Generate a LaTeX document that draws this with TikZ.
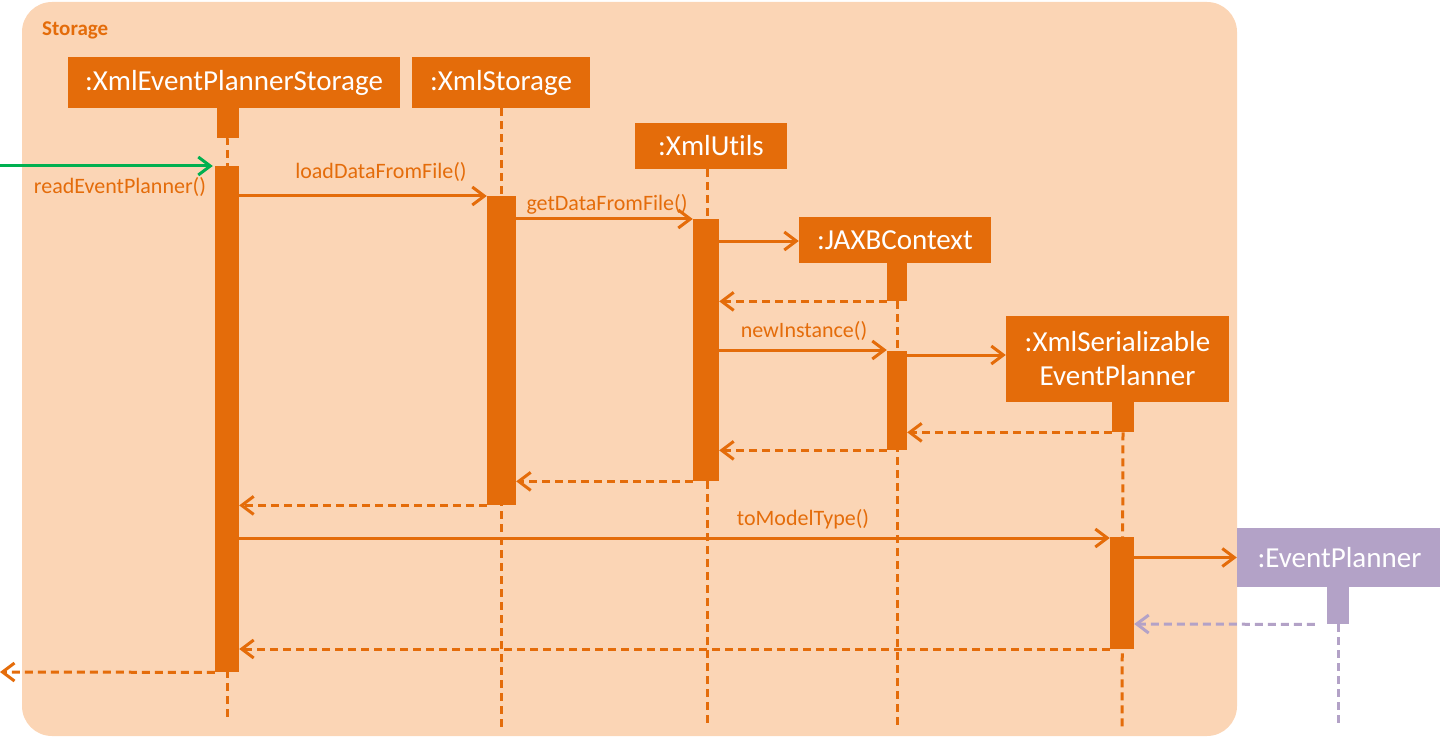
\documentclass[tikz,border=0pt]{standalone}
\usepackage{fontspec}
\setmainfont{Carlito}[Ligatures=NoCommon]
\usetikzlibrary{arrows.meta,calc}
\definecolor{orng}{HTML}{E46C0A}
\definecolor{peach}{HTML}{FBD5B5}
\definecolor{lilac}{HTML}{B3A2C7}
\definecolor{grn}{HTML}{00B050}

\begin{document}
\begin{tikzpicture}[x=1pt,y=-1pt,
  obj/.style={fill=orng, text=white, font=\fontsize{29}{34}\selectfont, inner sep=0pt, align=center},
  actbar/.style={fill=orng, inner sep=0pt, anchor=north},
  life/.style={draw=orng, line width=3pt, dash pattern=on 8pt off 5pt},
  call/.style={draw=orng, line width=3pt, -{Straight Barb[length=12pt,width=18pt,line width=3pt]}},
  ret/.style={call, dash pattern=on 8pt off 5pt},
  lbl/.style={text=orng, font=\fontsize{22}{26}\selectfont, inner sep=0pt}
]
\useasboundingbox (0,0) rectangle (1440,738);

% package frame
\fill[peach] (22,2) [rounded corners=30pt] rectangle (1237,736);
\node[anchor=west, text=orng, font=\fontsize{21}{25}\selectfont\bfseries, inner sep=0pt] (pkg) at (42,30) {Storage};

% participants
\node[obj, minimum width=332pt, minimum height=51pt] (o1) at (234,82.5) {:XmlEventPlannerStorage};
\node[obj, minimum width=178pt, minimum height=51pt] (o2) at (501,82.5) {:XmlStorage};
\node[obj, minimum width=152pt, minimum height=46pt] (o3) at (711,146) {:XmlUtils};
\node[obj, minimum width=192pt, minimum height=46pt] (o4) at (895,240) {:JAXBContext};
\node[obj, minimum width=223pt, minimum height=86pt] (o5) at (1117.5,359) {:XmlSerializable\\EventPlanner};
\node[obj, fill=lilac, minimum width=205pt, minimum height=59pt] (o6) at (1339.5,557.5) {:EventPlanner};

% stubs under the heads
\node[actbar, minimum width=22pt, minimum height=30pt] (s1) at (228,108) {};
\node[actbar, minimum width=20pt, minimum height=38pt] (s4) at (897,263) {};
\node[actbar, minimum width=22pt, minimum height=30pt] (s5) at (1123,402) {};
\node[actbar, fill=lilac, minimum width=22pt, minimum height=37pt] (s6) at (1338,587) {};

% lifeline ends
\coordinate (e1) at (227,717);
\coordinate (e2) at (501.5,727);
\coordinate (e3) at (707,727);
\coordinate (e4) at (897,727);
\coordinate (e5) at (1122,727);
\coordinate (e6) at (1338,727);

\draw[life] (s1.south) -- (e1 |- s1.south) -- (e1);
\draw[life] (o2.south -| e2) -- (e2);
\draw[life] (o3.south -| e3) -- (e3);
\draw[life] (s4.south) -- (e4);
\draw[life] (s5.south) -- (e5);
\draw[life, draw=lilac] (s6.south) -- (e6);

% activation bars
\node[actbar, minimum width=24pt, minimum height=506pt] (a1) at (227,166) {};
\node[actbar, minimum width=29pt, minimum height=309pt] (a2) at (501.5,196) {};
\node[actbar, minimum width=26pt, minimum height=262pt] (a3) at (706,219) {};
\node[actbar, minimum width=20pt, minimum height=99pt] (a4) at (897,351) {};
\node[actbar, minimum width=24pt, minimum height=112pt] (a5) at (1122,537) {};

% message levels
\coordinate (in) at (0,166);
\coordinate (out) at (0,672);
\coordinate (m1) at (0,196);
\coordinate (m2) at (0,219);
\coordinate (m3) at (0,241);
\coordinate (m5) at (0,350);
\coordinate (m6) at (0,355);
\coordinate (m11) at (0,538);
\coordinate (m13) at (0,624);
\coordinate (m14) at (0,649);

% calls
\draw[call, draw=grn] (in) -- ($(a1.west |- in)+(-2,0)$);
\node[lbl] (l0) at (120,187) {readEventPlanner()};

\draw[call] (a1.east |- m1) -- (a2.west |- m1);
\node[lbl] (l1) at (381,172) {loadDataFromFile()};

\draw[call] (a2.east |- m2) -- (a3.west |- m2);
\node[lbl] (l2) at (607,204) {getDataFromFile()};

\draw[call] (a3.east |- m3) -- (o4.west |- m3);

\draw[ret] (s4.south west) -- (a3.east |- s4.south west);

\draw[call] (a3.east |- m5) -- (a4.west |- m5);
\node[lbl] (l5) at (804,331) {newInstance()};

\draw[call] (a4.east |- m6) -- (o5.west |- m6);

\draw[ret] (s5.south west) -- (a4.east |- s5.south west);
\draw[ret] (a4.south west) -- (a3.east |- a4.south west);
\draw[ret] (a3.south west) -- (a2.east |- a3.south west);
\draw[ret] (a2.south west) -- (a1.east |- a2.south west);

\draw[call] (a1.east |- m11) -- (a5.west |- m11);
\node[lbl] (l11) at (803,519) {toModelType()};

\draw[call] (a5.east |- o6.west) -- (o6.west);
\draw[ret, draw=lilac] ($(s6.south west)+(-12,0)$) -- (a5.east |- m13);

\draw[ret] (a5.west |- m14) -- (a1.east |- m14);
\draw[ret] (a1.south west) -- (out);
\end{tikzpicture}
\end{document}
